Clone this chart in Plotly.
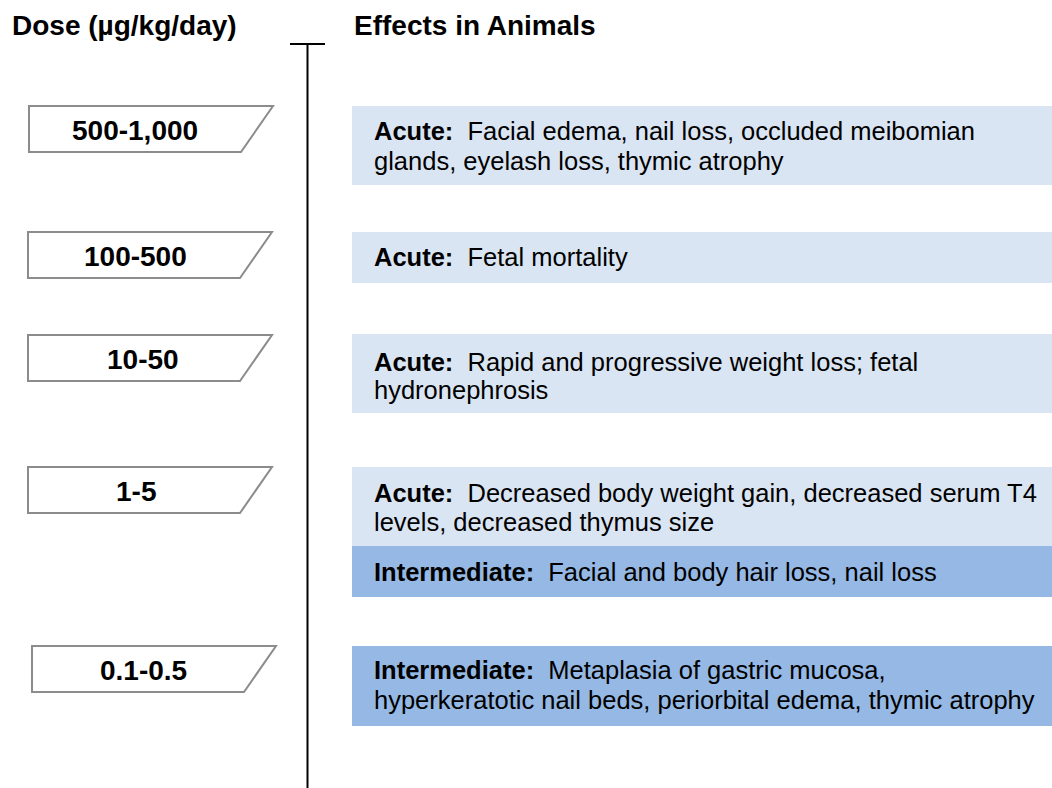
import plotly.graph_objects as go

# ---- data ----
dose_labels = ["500-1,000", "100-500", "10-50", "1-5", "0.1-0.5"]
effect_dose_index = [0, 1, 2, 3, 3, 4]
effect_duration = ["Acute", "Acute", "Acute", "Acute", "Intermediate", "Intermediate"]
effect_lines = [
    ["Facial edema, nail loss, occluded meibomian", "glands, eyelash loss, thymic atrophy"],
    ["Fetal mortality"],
    ["Rapid and progressive weight loss; fetal", "hydronephrosis"],
    ["Decreased body weight gain, decreased serum T4", "levels, decreased thymus size"],
    ["Facial and body hair loss, nail loss"],
    ["Metaplasia of gastric mucosa,", "hyperkeratotic nail beds, periorbital edema, thymic atrophy"],
]
header_left = "Dose (µg/kg/day)"
header_right = "Effects in Animals"

# ---- layout (pixel space) ----
W, H = 1052, 788
FONT = "Liberation Sans, Arial, sans-serif"
dose_box_top = [106, 232, 335, 467, 646]
dose_box_h = 46
dose_box_left = [29, 28, 28, 28, 32]
dose_box_w_top = 244
dose_box_slant = 32
dose_text_x = [135, 135, 143, 136, 143]

eff_top = [106, 232, 334, 467, 546, 646]
eff_bot = [185, 283, 413, 546, 597, 726]
eff_left, eff_right = 352, W
eff_text_x = 372
eff_line_y = [[131, 161], [257], [362, 390], [493, 522], [572], [670, 700]]
color_by_duration = {"Acute": "#DAE5F3", "Intermediate": "#95B8E4"}

fig = go.Figure()
shapes = []
annotations = []

# timeline
shapes.append(dict(type="line", xref="x", yref="y", x0=307.5, x1=307.5, y0=44, y1=H,
                   line=dict(color="black", width=2)))
shapes.append(dict(type="line", xref="x", yref="y", x0=290, x1=325, y0=44, y1=44,
                   line=dict(color="black", width=2)))

# dose parallelograms
for i, lab in enumerate(dose_labels):
    x0 = dose_box_left[i]
    y0 = dose_box_top[i]
    y1 = y0 + dose_box_h
    xr_top = x0 + dose_box_w_top
    xr_bot = xr_top - dose_box_slant
    path = f"M {x0},{y0} L {xr_top},{y0} L {xr_bot},{y1} L {x0},{y1} Z"
    shapes.append(dict(type="path", xref="x", yref="y", path=path,
                       fillcolor="white", line=dict(color="#8C8C8C", width=2)))
    annotations.append(dict(x=dose_text_x[i], y=(y0 + y1) / 2 + 1, xref="x", yref="y",
                            text=f"<b>{lab}</b>", showarrow=False,
                            xanchor="center", yanchor="middle",
                            font=dict(family=FONT, size=28, color="black")))

# effect boxes
for j in range(len(effect_lines)):
    shapes.append(dict(type="rect", xref="x", yref="y", x0=eff_left, x1=eff_right,
                       y0=eff_top[j], y1=eff_bot[j],
                       fillcolor=color_by_duration[effect_duration[j]],
                       line=dict(width=0), layer="below"))
    for k, line in enumerate(effect_lines[j]):
        txt = (f"<b>{effect_duration[j]}:</b>  {line}" if k == 0 else line)
        annotations.append(dict(x=eff_text_x, y=eff_line_y[j][k], xref="x", yref="y",
                                text=txt, showarrow=False,
                                xanchor="left", yanchor="middle",
                                font=dict(family=FONT, size=25.5, color="black")))

# headers
annotations.append(dict(x=10, y=25, xref="x", yref="y", text=f"<b>{header_left}</b>",
                        showarrow=False, xanchor="left", yanchor="middle",
                        font=dict(family=FONT, size=28, color="black")))
annotations.append(dict(x=352, y=25, xref="x", yref="y", text=f"<b>{header_right}</b>",
                        showarrow=False, xanchor="left", yanchor="middle",
                        font=dict(family=FONT, size=28, color="black")))

# invisible trace to anchor axes
fig.add_trace(go.Scatter(x=[0, W], y=[0, H], mode="markers",
                         marker=dict(opacity=0), hoverinfo="skip", showlegend=False))

fig.update_layout(
    width=W, height=H,
    margin=dict(l=0, r=0, t=0, b=0),
    paper_bgcolor="white", plot_bgcolor="white",
    shapes=shapes, annotations=annotations,
    xaxis=dict(range=[0, W], visible=False, fixedrange=True),
    yaxis=dict(range=[H, 0], visible=False, fixedrange=True),
    showlegend=False,
)
fig.write_html(
    "out.html",
    config={"displayModeBar": False},
    post_script="document.body.style.margin='0';document.body.style.overflow='hidden';",
)
